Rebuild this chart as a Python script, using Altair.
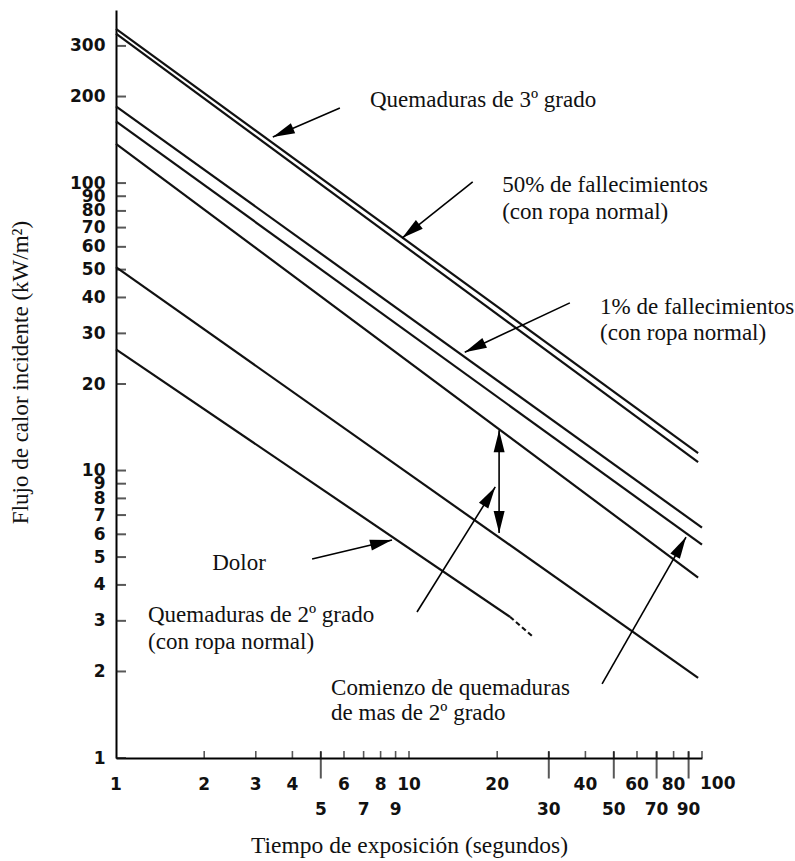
import math
import altair as alt
import pandas as pd

# ---------------- data ----------------
line_names = [
    "Quemaduras de 3º grado",
    "50% de fallecimientos",
    "1% de fallecimientos",
    "Comienzo de quemaduras de mas de 2º grado",
    "Quemaduras de 2º grado (superior)",
    "Quemaduras de 2º grado (inferior)",
    "Dolor",
]
line_t_start = [1, 1, 1, 1, 1, 1, 1]
line_q_start = [344, 331, 185, 164, 137, 51, 26.4]
line_t_end = [97, 97, 100, 100, 97, 97, 22.1]
line_q_end = [11.5, 10.7, 6.33, 5.52, 4.24, 1.9, 3.1]

# dashed extrapolation of the "Dolor" curve
dolor_ext_t = [22.1, 26.5]
dolor_ext_q = [3.1, 2.64]

y_tick_values = [1, 2, 3, 4, 5, 6, 7, 8, 9, 10, 20, 30, 40, 50, 60, 70, 80, 90, 100, 200, 300]
x_tick_values = [2, 3, 4, 5, 6, 7, 8, 9, 10, 20, 30, 40, 50, 60, 70, 80, 90, 100]
x_long_ticks = [5, 30, 50, 70, 90]
x_labels_top = [1, 2, 3, 4, 6, 8, 10, 20, 40, 60, 80]
x_labels_bottom = [5, 7, 9, 30, 50, 70, 90]
x_label_last = [100]

# annotation texts (data coordinates: t = seconds, q = kW/m2)
note_text = [
    "Quemaduras de 3º grado", "50% de fallecimientos", "(con ropa normal)",
    "1% de fallecimientos", "(con ropa normal)", "Dolor",
    "Quemaduras de 2º grado", "(con ropa normal)",
    "Comienzo de quemaduras", "de mas de 2º grado",
]
note_t = [7.36, 20.8, 20.8, 44.9, 44.9, 2.13, 1.286, 1.286, 5.42, 5.42]
note_q = [194.5, 98.5, 79.3, 37.1, 30.1, 4.77, 3.14, 2.53, 1.752, 1.434]

# arrows: from (tail) -> to (tip); double = head on both ends
arrow_t_from = [5.81, 16.5, 35.4, 20.3, 10.65, 45.6, 4.67]
arrow_q_from = [182.5, 100.9, 38.3, 6.06, 3.22, 1.81, 4.92]
arrow_t_to = [3.43, 9.47, 15.5, 20.3, 19.7, 88.2, 8.75]
arrow_q_to = [144.6, 64.4, 25.8, 13.8, 8.77, 5.87, 5.73]
arrow_double = [False, False, False, True, False, False, False]

# ---------------- layout ----------------
W, H = 586, 748
XDOM = [1, 100]
YDOM = [1, 400]
SERIF = "Liberation Serif"
SANS = "DejaVu Sans"
INK = "#111111"
NUM_SIZE = 17
YTICK_LEN = 10

xs = alt.Scale(type="log", domain=XDOM, nice=False)
ys = alt.Scale(type="log", domain=YDOM, nice=False)

x_axis = alt.Axis(
    labels=False, ticks=False, grid=False, domainColor="black", domainWidth=2,
    zindex=0,
    title="Tiempo de exposición (segundos)", titleFont=SERIF, titleFontSize=23.5,
    titleFontWeight="normal", titleColor=INK, titleX=293, titleY=87,
    titleBaseline="middle", titleAlign="center")
y_axis = alt.Axis(
    values=y_tick_values, format="d", ticks=False, grid=False, zindex=0,
    labelFont=SANS, labelFontWeight="bold", labelFontSize=NUM_SIZE, labelColor=INK,
    labelPadding=11, labelOverlap=False, labelFlush=False,
    domainColor="black", domainWidth=2,
    title="Flujo de calor incidente (kW/m²)", titleFont=SERIF, titleFontSize=23,
    titleFontWeight="normal", titleColor=INK, titleAngle=270, titleX=-96, titleY=362,
    titleAlign="center", titleBaseline="middle")


def X(field):
    return alt.X(field, scale=xs, axis=x_axis)


def Y(field):
    return alt.Y(field, scale=ys, axis=y_axis)


lines_df = pd.DataFrame({
    "name": line_names * 2,
    "t": line_t_start + line_t_end,
    "q": line_q_start + line_q_end,
})
ext_df = pd.DataFrame({"t": dolor_ext_t, "q": dolor_ext_q})

main = alt.Chart(lines_df).mark_line(color=INK, strokeWidth=2.2).encode(
    x=X("t:Q"), y=Y("q:Q"), detail="name:N")
ext = alt.Chart(ext_df).mark_line(color=INK, strokeWidth=2.2, strokeDash=[5, 3]).encode(
    x=X("t:Q"), y=Y("q:Q"))

# y-axis ticks pointing inward: centred half a tick length right of the axis
ytick_centre = 10 ** ((YTICK_LEN / 2) / (W / math.log10(XDOM[1] / XDOM[0])))
ytick = alt.Chart(pd.DataFrame({"t": [ytick_centre] * len(y_tick_values),
                                "q": y_tick_values})).mark_tick(
    orient="horizontal", size=YTICK_LEN, thickness=2, color=INK).encode(
    x=X("t:Q"), y=Y("q:Q"))

xtick = alt.Chart(pd.DataFrame({"t": x_tick_values, "q": [1] * len(x_tick_values)})).mark_tick(
    orient="vertical", size=7, thickness=1.6, yOffset=-3.5, color=INK).encode(
    x=X("t:Q"), y=Y("q:Q"))
xtick_long = alt.Chart(pd.DataFrame({"t": x_long_ticks, "q": [1] * len(x_long_ticks)})).mark_tick(
    orient="vertical", size=27, thickness=2, yOffset=7, color=INK).encode(
    x=X("t:Q"), y=Y("q:Q"))

lab_style = dict(font=SANS, fontWeight="bold", fontSize=NUM_SIZE, color=INK, baseline="middle")
xlab_top = alt.Chart(pd.DataFrame({"t": x_labels_top, "q": [1] * len(x_labels_top)})).mark_text(
    align="center", dy=27, **lab_style).encode(
    x=X("t:Q"), y=Y("q:Q"), text=alt.Text("t:Q", format="d"))
xlab_last = alt.Chart(pd.DataFrame({"t": x_label_last, "q": [1]})).mark_text(
    align="left", dx=-2, dy=26, **lab_style).encode(
    x=X("t:Q"), y=Y("q:Q"), text=alt.Text("t:Q", format="d"))
xlab_bot = alt.Chart(pd.DataFrame({"t": x_labels_bottom, "q": [1] * len(x_labels_bottom)})).mark_text(
    align="center", dy=52, **lab_style).encode(
    x=X("t:Q"), y=Y("q:Q"), text=alt.Text("t:Q", format="d"))

# annotations
notes = alt.Chart(pd.DataFrame({"text": note_text, "t": note_t, "q": note_q})).mark_text(
    align="left", baseline="middle", font=SERIF, fontSize=23, color=INK).encode(
    x=X("t:Q"), y=Y("q:Q"), text="text:N")

arrow_df = pd.DataFrame({"t": arrow_t_from, "q": arrow_q_from, "t2": arrow_t_to, "q2": arrow_q_to})
arrows = alt.Chart(arrow_df).mark_rule(color="black", strokeWidth=1.6).encode(
    x=X("t:Q"), y=Y("q:Q"), x2="t2:Q", y2="q2:Q")

ydec = H / math.log10(YDOM[1] / YDOM[0])
xdec = W / math.log10(XDOM[1] / XDOM[0])


def heading(t1, q1, t2, q2):
    dx = (math.log10(t2) - math.log10(t1)) * xdec
    dy = -(math.log10(q2) - math.log10(q1)) * ydec
    return math.degrees(math.atan2(dx, -dy)) % 360


head_t, head_q, head_a = [], [], []
for t1, q1, t2, q2, dbl in zip(arrow_t_from, arrow_q_from, arrow_t_to, arrow_q_to, arrow_double):
    head_t.append(t2); head_q.append(q2); head_a.append(heading(t1, q1, t2, q2))
    if dbl:
        head_t.append(t1); head_q.append(q1); head_a.append(heading(t2, q2, t1, q1))

heads = alt.Chart(pd.DataFrame({"t": head_t, "q": head_q, "a": head_a})).mark_point(
    shape="M0,0L-0.25,1L0.25,1Z", filled=True, size=1936, color="black", opacity=1,
    strokeWidth=0).encode(
    x=X("t:Q"), y=Y("q:Q"), angle=alt.Angle("a:Q", scale=None))

chart = alt.layer(main, ext, xtick, xtick_long, xlab_top, xlab_last, xlab_bot,
                  notes, arrows, heads, ytick).properties(
    width=W, height=H,
    padding={"left": 116, "top": 10, "right": 93, "bottom": 103},
    autosize=alt.AutoSizeParams(type="none"),
    background="white",
).configure_view(stroke=None)

chart.save("out.html", embed_options={"renderer": "svg", "actions": False})
